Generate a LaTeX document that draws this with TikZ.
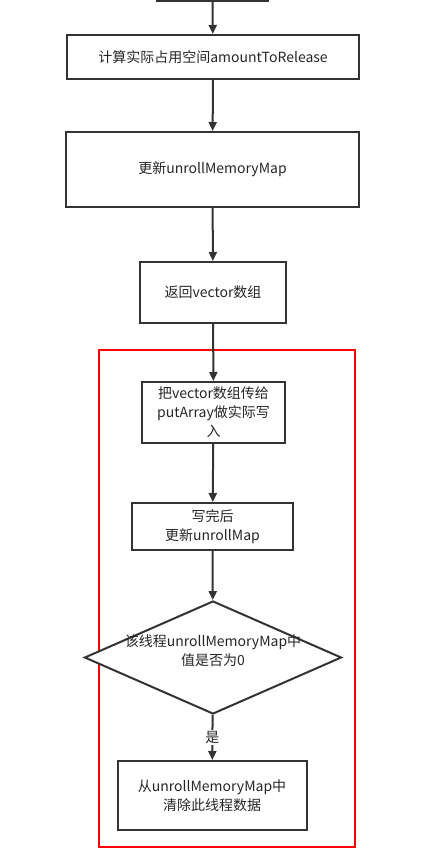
\documentclass[tikz,border=0pt]{standalone}
\usepackage{fontspec}
\setmainfont{Noto Sans CJK SC}
\usetikzlibrary{shapes.geometric,arrows.meta}
\begin{document}
\begin{tikzpicture}[x=1pt,y=-1pt,
  line width=2pt,
  every node/.style={font=\fontsize{14}{19}\selectfont, text=black!85, align=center},
  flowbox/.style={draw=black!80, fill=white, minimum width=#1, inner sep=0pt},
  link/.style={draw=black!80, -{Triangle[length=9pt,width=8pt]}},
  frame/.style={draw=red, line width=1.6pt}]
\useasboundingbox (0,0) rectangle (429,848);
\fill[white] (0,0) rectangle (429,848);
% red frame
\draw[frame] (99,350) rectangle (355,847);
% top partial box
\draw[draw=black!80] (157,-5) rectangle (268,1);
\coordinate (top) at (212.5,1);
\node[flowbox=292pt, minimum height=44pt] (b1) at (213,57) {计算实际占用空间amountToRelease};
\node[flowbox=293pt, minimum height=75pt] (b2) at (212.5,169.5) {更新unrollMemoryMap};
\node[flowbox=146pt, minimum height=61pt] (b3) at (213,292.5) {返回vector数组};
\node[flowbox=143pt, minimum height=61pt] (b4) at (213.5,412.5) {把vector数组传给\\putArray做实际写\\入};
\node[flowbox=161pt, minimum height=47pt] (b5) at (212.5,526.5) {写完后\\更新unrollMap};
\node[draw=black!80, fill=white, diamond, aspect=2.27, minimum width=257pt, minimum height=113pt, inner sep=0pt] (d1) at (213,657.5) {};
\node at (213,651) {该线程unrollMemoryMap中\\值是否为0};
\node[flowbox=189pt, minimum height=69pt] (b6) at (212,795.5) {从unrollMemoryMap中\\清除此线程数据};
\draw[link] (top) -- (b1);
\draw[link] (b1) -- (b2);
\draw[link] (b2) -- (b3);
\draw[link] (b3) -- (b4);
\draw[link] (b4) -- (b5);
\draw[link] (b5) -- (d1);
\draw[link] (d1) -- node[fill=white, inner sep=1pt] {是} (b6);
\end{tikzpicture}
\end{document}
